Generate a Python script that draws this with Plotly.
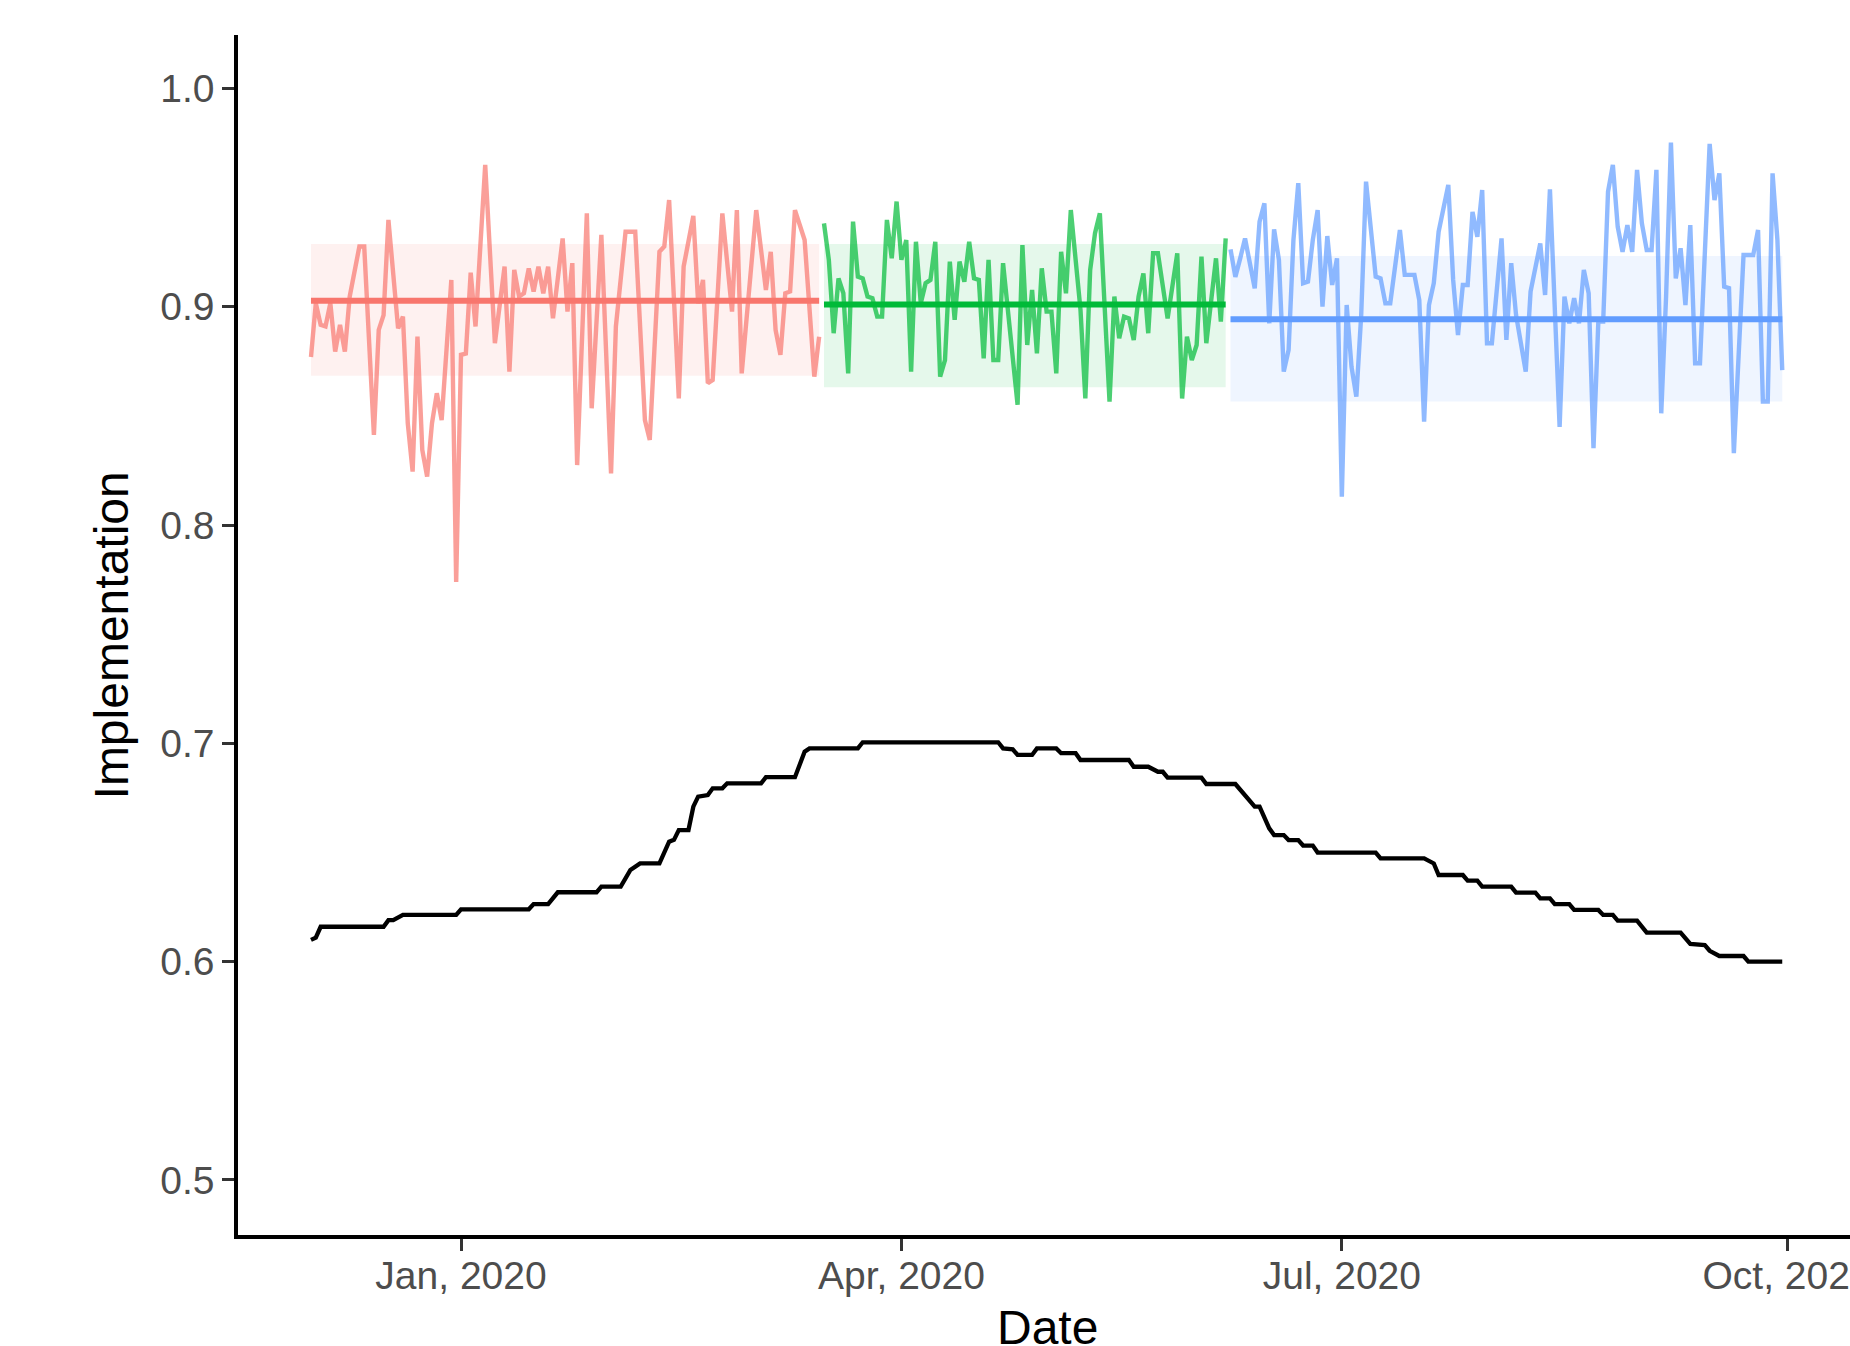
import pandas as pd
import plotly.graph_objects as go

START = "2019-12-01"

# ---- noisy daily implementation, by phase (days since START, value) ----
red_days = [0, 1, 2, 3, 4, 5, 6, 7, 8, 10, 11, 13, 14, 15, 16, 18, 19, 20, 21, 22, 23, 24, 25, 26, 27,
            29, 30, 31, 32, 33, 34, 36, 38, 40, 41, 42, 43, 44, 45, 46, 47, 48, 49, 50, 52, 53, 54, 55,
            57, 58, 60, 62, 63, 65, 67, 69, 70, 72, 73, 74, 76, 77, 79, 80, 81, 82, 83, 85, 87, 88, 89,
            92, 94, 95, 96, 97, 98, 99, 100, 102, 104, 105]
red_vals = [0.877, 0.9016, 0.8917, 0.891, 0.9016, 0.8795, 0.8917, 0.8795, 0.9047, 0.9276, 0.9276,
            0.8413, 0.8894, 0.8962, 0.9398, 0.8901, 0.8955, 0.8466, 0.8245, 0.8863, 0.8344, 0.8222,
            0.8466, 0.8604, 0.8481, 0.9123, 0.774, 0.878, 0.8786, 0.9156, 0.891, 0.965, 0.8833, 0.9184,
            0.8703, 0.9169, 0.9047, 0.9062, 0.9176, 0.907, 0.9184, 0.9062, 0.9184, 0.8947, 0.9313,
            0.8978, 0.92, 0.8275, 0.9428, 0.8535, 0.9329, 0.8237, 0.891, 0.9344, 0.9344, 0.8481, 0.839,
            0.9252, 0.9276, 0.9489, 0.858, 0.9184, 0.9416, 0.9016, 0.9123, 0.865, 0.8665, 0.9428,
            0.8978, 0.9443, 0.8695, 0.9443, 0.9077, 0.9252, 0.8894, 0.878, 0.9062, 0.907, 0.9443,
            0.9306, 0.868, 0.8863]

green_days = [106, 107, 108, 109, 110, 111, 112, 113, 114, 115, 116, 117, 118, 119, 120, 121, 122, 123,
              124, 125, 126, 127, 128, 129, 130, 131, 132, 133, 134, 135, 136, 137, 138, 139, 140, 141,
              142, 143, 146, 147, 148, 149, 150, 151, 152, 153, 154, 155, 156, 157, 159, 160, 161, 162,
              163, 165, 166, 167, 168, 169, 170, 171, 172, 173, 174, 175, 177, 179, 180, 181, 182, 183,
              184, 185, 187, 188, 189]
green_vals = [0.9382, 0.9215, 0.8879, 0.913, 0.9062, 0.8695, 0.939, 0.9138, 0.913, 0.9047, 0.9039,
              0.8955, 0.8955, 0.9398, 0.9222, 0.9482, 0.9215, 0.9306, 0.8703, 0.9298, 0.9016, 0.9108,
              0.9123, 0.9298, 0.868, 0.8756, 0.9207, 0.894, 0.9207, 0.9115, 0.9298, 0.913, 0.9123,
              0.8764, 0.9215, 0.8756, 0.8756, 0.92, 0.8551, 0.9283, 0.8825, 0.9077, 0.8787, 0.9176,
              0.8978, 0.8978, 0.8695, 0.9252, 0.9062, 0.9443, 0.8986, 0.858, 0.9169, 0.9337, 0.9428,
              0.8565, 0.9047, 0.8856, 0.8955, 0.8947, 0.8848, 0.9047, 0.9153, 0.8879, 0.9245, 0.9245,
              0.8947, 0.9245, 0.858, 0.8863, 0.8756, 0.8825, 0.923, 0.8833, 0.9222, 0.8932, 0.9313]

blue_days = [190, 191, 192, 193, 195, 196, 197, 198, 199, 200, 201, 202, 203, 204, 205, 206, 207, 208,
             209, 210, 211, 212, 213, 214, 215, 216, 217, 218, 220, 221, 222, 223, 225, 226, 228, 229,
             230, 231, 232, 233, 235, 236, 237, 238, 239, 240, 241, 242, 243, 244, 246, 247, 248, 249,
             251, 252, 254, 255, 256, 258, 259, 260, 261, 262, 263, 264, 265, 266, 267, 268, 269, 270,
             271, 272, 273, 274, 275, 276, 277, 278, 279, 280, 281, 282, 283, 284, 285, 286, 287, 289,
             290, 291, 292, 293, 294, 296, 298, 299, 300, 301, 302, 303, 304]
blue_vals = [0.9263, 0.9137, 0.9222, 0.9313, 0.9085, 0.939, 0.9474, 0.8924, 0.9355, 0.9215, 0.8703,
             0.8802, 0.9306, 0.9566, 0.9108, 0.9115, 0.9306, 0.9443, 0.9001, 0.9324, 0.91, 0.9222,
             0.813, 0.9008, 0.8725, 0.8588, 0.8962, 0.9573, 0.9138, 0.913, 0.9016, 0.9016, 0.9352,
             0.9146, 0.9146, 0.9031, 0.8474, 0.9008, 0.9108, 0.9344, 0.9558, 0.9123, 0.8871, 0.91,
             0.91, 0.9435, 0.9321, 0.9535, 0.8833, 0.8833, 0.9313, 0.8848, 0.92, 0.8962, 0.8703,
             0.907, 0.929, 0.9054, 0.9538, 0.845, 0.9047, 0.8924, 0.9039, 0.8924, 0.9169, 0.9062,
             0.8352, 0.8932, 0.8932, 0.9527, 0.965, 0.9367, 0.9252, 0.9374, 0.9252, 0.9627, 0.9382,
             0.926, 0.926, 0.9627, 0.8512, 0.9047, 0.9752, 0.913, 0.9268, 0.9008, 0.9374, 0.8741,
             0.8741, 0.9746, 0.9489, 0.9611, 0.9092, 0.9085, 0.8329, 0.9237, 0.9237, 0.9352, 0.8566,
             0.8566, 0.9611, 0.9306, 0.871]

# ---- black smooth curve ----
black_days = [0, 1, 2, 15, 16, 17, 19, 30, 31, 45, 46, 49, 51, 59, 60, 64, 66, 68, 72, 74, 75, 76, 78,
              79, 80, 82, 83, 85, 86, 93, 94, 100, 102, 103, 113, 114, 142, 143, 145, 146, 149, 150,
              154, 155, 158, 159, 169, 170, 173, 175, 176, 177, 184, 185, 191, 195, 196, 198, 199, 201,
              202, 204, 205, 207, 208, 220, 221, 230, 232, 233, 238, 239, 241, 242, 248, 249, 253, 254,
              256, 257, 260, 261, 266, 267, 269, 270, 274, 276, 283, 285, 288, 289, 291, 296, 297, 304]
black_vals = [0.610, 0.611, 0.616, 0.616, 0.619, 0.619, 0.6214, 0.6214, 0.624, 0.624, 0.6264, 0.6264,
              0.6318, 0.6318, 0.6344, 0.6344, 0.642, 0.645, 0.645, 0.655, 0.6558, 0.6603, 0.6603,
              0.671, 0.6756, 0.6763, 0.6794, 0.6794, 0.6817, 0.6817, 0.6845, 0.6845, 0.6962, 0.6977,
              0.6977, 0.7005, 0.7005, 0.6977, 0.6973, 0.6947, 0.6947, 0.6977, 0.6977, 0.6955, 0.6955,
              0.6924, 0.6924, 0.6893, 0.6893, 0.687, 0.687, 0.6843, 0.6843, 0.6814, 0.6814, 0.671,
              0.671, 0.6611, 0.658, 0.658, 0.6557, 0.6557, 0.6532, 0.6532, 0.65, 0.65, 0.6473, 0.6473,
              0.645, 0.6397, 0.6397, 0.6371, 0.6371, 0.6344, 0.6344, 0.6316, 0.6316, 0.629, 0.629,
              0.6264, 0.6264, 0.6237, 0.6237, 0.6214, 0.6214, 0.6188, 0.6188, 0.6133, 0.6133, 0.6081,
              0.6076, 0.605, 0.6026, 0.6026, 0.600, 0.600]

# ---- phase summaries ----
phase_start = [0, 106, 190]
phase_end = [105, 189, 304]
phase_mean = [0.9028, 0.9010, 0.8943]
phase_lower = [0.8684, 0.8631, 0.8566]
phase_upper = [0.9288, 0.9288, 0.9233]
phase_rgb = [(248, 118, 109), (0, 186, 56), (97, 156, 255)]

x_tickvals = ["2020-01-01", "2020-04-01", "2020-07-01", "2020-10-01"]
y_tickvals = [0.5, 0.6, 0.7, 0.8, 0.9, 1.0]

x_range_days = [-15.08, 318.0]
y_range = [0.4748, 1.0245]

t0 = pd.Timestamp(START)


def to_dates(days):
    return [(t0 + pd.Timedelta(days=float(d))).strftime("%Y-%m-%d %H:%M:%S") for d in days]


fig = go.Figure()

series = [(red_days, red_vals), (green_days, green_vals), (blue_days, blue_vals)]

# ribbons
for i in range(3):
    r, g, b = phase_rgb[i]
    xs = to_dates([phase_start[i], phase_end[i], phase_end[i], phase_start[i], phase_start[i]])
    ys = [phase_lower[i], phase_lower[i], phase_upper[i], phase_upper[i], phase_lower[i]]
    fig.add_trace(go.Scatter(x=xs, y=ys, mode="lines", fill="toself",
                             fillcolor=f"rgba({r},{g},{b},0.1)", line=dict(width=0),
                             hoverinfo="skip", showlegend=False))

# noisy lines
for i, (d, v) in enumerate(series):
    r, g, b = phase_rgb[i]
    fig.add_trace(go.Scatter(x=to_dates(d), y=v, mode="lines",
                             line=dict(color=f"rgba({r},{g},{b},0.7)", width=4.4),
                             showlegend=False))

# mean lines
for i in range(3):
    r, g, b = phase_rgb[i]
    fig.add_trace(go.Scatter(x=to_dates([phase_start[i], phase_end[i]]),
                             y=[phase_mean[i], phase_mean[i]], mode="lines",
                             line=dict(color=f"rgb({r},{g},{b})", width=6),
                             showlegend=False))

# black curve
fig.add_trace(go.Scatter(x=to_dates(black_days), y=black_vals, mode="lines",
                         line=dict(color="black", width=4.3), showlegend=False))

font_family = "Liberation Sans, Arial, sans-serif"

fig.update_layout(
    width=1850, height=1346,
    margin=dict(l=238, r=0, t=35, b=111, pad=0, autoexpand=False),
    paper_bgcolor="white", plot_bgcolor="white",
    font=dict(family=font_family),
    showlegend=False,
    xaxis=dict(
        type="date",
        range=to_dates(x_range_days),
        automargin=False,
        showgrid=False, zeroline=False,
        showline=True, linecolor="black", linewidth=3.5,
        ticks="outside", ticklen=12, tickwidth=2.5, tickcolor="#333333",
        tickvals=x_tickvals, tickformat="%b, %Y",
        ticklabeloverflow="allow", ticklabelstandoff=-9,
        tickfont=dict(size=39, color="#4D4D4D", family=font_family),
    ),
    yaxis=dict(
        range=y_range,
        automargin=False,
        showgrid=False, zeroline=False,
        showline=True, linecolor="black", linewidth=3.5,
        ticks="outside", ticklen=12, tickwidth=2.5, tickcolor="#333333",
        tickvals=y_tickvals, tickformat=".1f",
        tickfont=dict(size=39, color="#4D4D4D", family=font_family),
    ),
    annotations=[
        dict(text="Date", xref="paper", yref="paper", x=0.502, y=-0.0772,
             xanchor="center", yanchor="middle", showarrow=False,
             font=dict(size=48, color="black", family=font_family)),
        dict(text="Implementation", xref="paper", yref="paper", x=-0.0785, y=0.5,
             xanchor="center", yanchor="middle", textangle=-90, showarrow=False,
             font=dict(size=48, color="black", family=font_family)),
    ],
)

fig.write_html("out.html", config={"displayModeBar": False},
               post_script="document.body.style.margin='0';document.body.style.overflow='hidden';")
